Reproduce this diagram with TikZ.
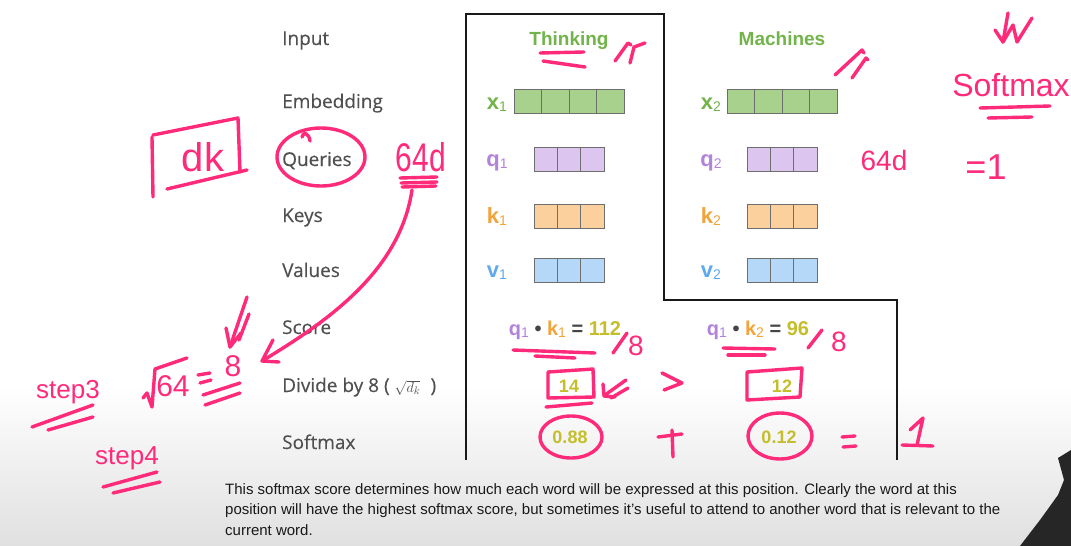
\documentclass[tikz,border=0pt]{standalone}
\usepackage{fontspec}
\setmainfont{Open Sans}
\newfontfamily\rowfont{Open Sans}[FakeBold=0.3]
\newfontfamily\slidefont{Liberation Sans}
\usepackage{tikz}
\usetikzlibrary{arrows.meta, positioning}

\definecolor{labelgray}{HTML}{505050}
\definecolor{dotgray}{HTML}{444444}
\definecolor{wordgreen}{HTML}{72B44A}
\definecolor{embfill}{HTML}{A9D18E}
\definecolor{qpurple}{HTML}{B283DB}
\definecolor{qfill}{HTML}{DCC5EF}
\definecolor{korange}{HTML}{F2A33A}
\definecolor{kfill}{HTML}{FBD09C}
\definecolor{vblue}{HTML}{5FAAEF}
\definecolor{vfill}{HTML}{B5D8F8}
\definecolor{scoreolive}{HTML}{C5BE2C}
\definecolor{cellgray}{HTML}{6E6E6E}
\definecolor{penpink}{HTML}{FF2A7A}
\definecolor{capgray}{HTML}{E0E0E0}

\newcommand{\subidx}[1]{\raisebox{-0.1em}{\fontsize{14}{14}\selectfont\mdseries #1}}
\newcommand{\handsize}[1]{\slidefont\fontsize{#1}{#1}\selectfont}

\begin{document}
\begin{tikzpicture}[x=1pt, y=-1pt, >=Stealth,
  rowlabel/.style={anchor=base west, inner sep=0pt, text=labelgray, font=\rowfont\fontsize{19}{19}\selectfont},
  word/.style={anchor=base, inner sep=0pt, text=wordgreen, font=\slidefont\bfseries\fontsize{19}{19}\selectfont},
  vec/.style={anchor=base, inner sep=0pt, font=\slidefont\bfseries\fontsize{22}{22}\selectfont},
  cell/.style={draw=cellgray, line width=0.8pt, anchor=north west, minimum height=24pt, inner sep=0pt, outer sep=0pt},
  num/.style={anchor=base, inner sep=0pt, text=scoreolive, font=\slidefont\bfseries\fontsize{18}{18}\selectfont},
  pen/.style={draw=penpink, line width=3.4pt, line cap=round, line join=round},
  hand/.style={text=penpink, inner sep=0pt}]

  % page and caption band
  \useasboundingbox (0,0) rectangle (1071,546);
  \fill[white] (0,0) rectangle (1071,546);
  \shade[top color=white, bottom color=capgray] (0,385) rectangle (1071,546);

  % row labels
  \node[rowlabel] (lin)  at (282,45)  {Input};
  \node[rowlabel] (lemb) at (282,108) {Embedding};
  \node[rowlabel] (lq)   at (282,166) {Queries};
  \node[rowlabel] (lk)   at (282,222) {Keys};
  \node[rowlabel] (lv)   at (282,277) {Values};
  \node[rowlabel] (lsc)  at (282,334) {Score};
  \node[rowlabel] (ldiv) at (282,392) {Divide by 8 ( {\fontsize{15}{15}\selectfont$\sqrt{d_k}$}\; )};
  \node[rowlabel] (lsm)  at (282,449) {Softmax};

  % frame
  \draw[line width=1.6pt, draw=black!90] (466,460) |- (664,14) |- (897,300) -- (897,460);

  % words and vectors
  \node[word] (think) at (569,45) {Thinking};
  \node[word] (mach)  at (782,45) {Machines};

  \node[vec, text=wordgreen] (x1) at (497,109) {x\subidx{1}};
  \node[vec, text=wordgreen] (x2) at (711,109) {x\subidx{2}};
  \node[vec, text=qpurple]   (q1) at (497,166) {q\subidx{1}};
  \node[vec, text=qpurple]   (q2) at (711,166) {q\subidx{2}};
  \node[vec, text=korange]   (k1) at (497,223) {k\subidx{1}};
  \node[vec, text=korange]   (k2) at (711,223) {k\subidx{2}};
  \node[vec, text=vblue]     (v1) at (497,277) {v\subidx{1}};
  \node[vec, text=vblue]     (v2) at (711,277) {v\subidx{2}};

  \foreach \i in {1,...,4} {
    \node[cell, fill=embfill, minimum width=27.5pt] (x1c\i) at ({514+27.5*(\i-1)},89) {};
    \node[cell, fill=embfill, minimum width=27.5pt] (x2c\i) at ({727+27.5*(\i-1)},89) {};
  }
  \foreach \row/\ytop/\col in {q/147/qfill, k/204/kfill, v/258/vfill}
    \foreach \i in {1,2,3} {
      \node[cell, fill=\col, minimum width=23.33pt] (\row1c\i) at ({534+23.33*(\i-1)},\ytop) {};
      \node[cell, fill=\col, minimum width=23.33pt] (\row2c\i) at ({747+23.33*(\i-1)},\ytop) {};
    }

  % scores
  \node[vec, font=\slidefont\bfseries\fontsize{20}{20}\selectfont] (sc1) at (565,335)
    {\textcolor{qpurple}{q\subidx{1}} \textcolor{dotgray}{•} \textcolor{korange}{k\subidx{1}} \textcolor{dotgray}{=} \textcolor{scoreolive}{112}};
  \node[vec, font=\slidefont\bfseries\fontsize{20}{20}\selectfont] (sc2) at (758,335)
    {\textcolor{qpurple}{q\subidx{1}} \textcolor{dotgray}{•} \textcolor{korange}{k\subidx{2}} \textcolor{dotgray}{=} \textcolor{scoreolive}{96}};
  \node[num] (d1) at (569,392) {14};
  \node[num] (d2) at (782,392) {12};
  \node[num] (s1) at (570,443) {0.88};
  \node[num] (s2) at (779,443) {0.12};

  % caption
  \node[anchor=base west, inner sep=0pt, text=black!90, font=\slidefont\fontsize{15}{15}\selectfont] (cap1) at (225,494)
    {This softmax score determines how much each word will be expressed at this position. Clearly the word at this};
  \node[anchor=base west, inner sep=0pt, text=black!90, font=\slidefont\fontsize{15}{15}\selectfont] (cap2) at (225,514)
    {position will have the highest softmax score, but sometimes it’s useful to attend to another word that is relevant to the};
  \node[anchor=base west, inner sep=0pt, text=black!90, font=\slidefont\fontsize{15}{15}\selectfont] (cap3) at (225,535)
    {current word.};

  % shoulder in the corner
  \fill[black!85] (1058,458) -- (1071,450) -- (1071,546) -- (1020,546) -- (1040,520) -- (1058,495) -- (1064,480) -- cycle;

  % pen notes, left
  \node[hand, font=\handsize{40}] (dk) at (203,157) {dk};
  \draw[pen] (152,137) -- (153,197);
  \draw[pen] (153,135) -- (238,118) -- (240,172);
  \draw[pen] (167,189) -- (247,170);
  \draw[pen] (321,157) ellipse [x radius=44, y radius=29];
  \draw[pen] (302,137) .. controls (303,131) and (309,133) .. (310,141);

  \node[hand, font=\handsize{40}] (dim64) at (421,157) {\scalebox{0.75}[1]{64d}};
  \draw[pen] (400,178) -- (437,177);
  \draw[pen] (401,183) -- (437,182);
  \draw[pen] (402,187) -- (436,186);

  \node[hand, font=\handsize{30}] (eight) at (233,366) {8};
  \coordinate (arcstart) at (412,190);
  \coordinate (arctip) at (262,361);
  \draw[pen] (arcstart) .. controls (400,270) and (330,320) .. (arctip);
  \draw[pen] (273,340) -- (arctip) -- (279,362);
  \draw[pen] (247,297) -- (230,347);
  \draw[pen] (249,314) -- (239,340);
  \draw[pen] (226,328) -- (230,347) -- (241,333);

  \node[hand, font=\handsize{30}] (n64) at (173,386) {64};
  \draw[pen] (143,398) -- (147,393) -- (152,407) -- (155,369) -- (187,358);
  \draw[pen] (198,375) -- (210,373);
  \draw[pen] (200,383) -- (211,380);
  \draw[pen] (203,395) -- (240,383);
  \draw[pen] (205,405) -- (240,393);

  \node[hand, font=\handsize{26}] (step3) at (68,392) {step3};
  \draw[pen] (32,427) -- (93,405);
  \draw[pen] (48,430) -- (93,417);
  \node[hand, font=\handsize{26}] (step4) at (127,458) {step4};
  \draw[pen] (103,487) -- (157,472);
  \draw[pen] (113,493) -- (160,482);

  % pen notes, top
  \draw[pen] (540,53) -- (584,52);
  \draw[pen] (543,61) -- (585,67);
  \draw[pen] (615,61) -- (628,43) -- (631,45);
  \draw[pen] (630,63) -- (634,47) -- (645,43);
  \draw[pen] (835,75) -- (862,50) -- (864,53);
  \draw[pen] (852,78) -- (866,58) -- (868,60);
  \node[hand, font=\handsize{28}] (dim64b) at (884,160) {64d};

  \draw[pen] (1008,13) -- (1003,42);
  \draw[pen] (995,30) -- (1003,42) -- (1013,25) -- (1017,42) -- (1032,18);
  \node[hand, font=\handsize{32}] (smx) at (1011,85) {Softmax};
  \draw[pen] (980,108) -- (1050,106);
  \draw[pen] (988,118) -- (1032,117);
  \node[hand, font=\handsize{36}] (eqone) at (986,167) {=1};

  % pen notes, scores
  \draw[pen] (513,350) -- (595,353);
  \draw[pen] (535,356) -- (575,358);
  \draw[pen] (613,353) -- (627,333);
  \node[hand, font=\handsize{28}] (by8a) at (636,346) {8};
  \draw[pen] (723,348) -- (775,349);
  \draw[pen] (728,355) -- (765,355);
  \draw[pen] (808,348) -- (822,330);
  \node[hand, font=\handsize{28}] (by8b) at (839,342) {8};

  \draw[pen] (548,372) -- (593,369) -- (594,397) -- (548,398) -- cycle;
  \draw[pen] (546,407) -- (592,403);
  \draw[pen] (605,395) -- (626,380);
  \draw[pen] (611,398) -- (628,388);
  \draw[pen] (603,384) -- (604,396) -- (615,397);
  \draw[pen] (662,373) -- (682,383) -- (664,390);
  \draw[pen] (747,372) -- (802,368) -- (800,397) -- (747,400) -- cycle;

  \draw[pen] (571,437) ellipse [x radius=31, y radius=21];
  \draw[pen] (780,436) ellipse [x radius=32, y radius=23];
  \draw[pen] (658,437) -- (682,434);
  \draw[pen] (672,430) -- (673,457);
  \draw[pen] (842,437) -- (855,436);
  \draw[pen] (843,447) -- (856,446);
  \draw[pen] (910,430) -- (923,418) -- (917,445);
  \draw[pen] (902,445) -- (933,446);
\end{tikzpicture}
\end{document}
